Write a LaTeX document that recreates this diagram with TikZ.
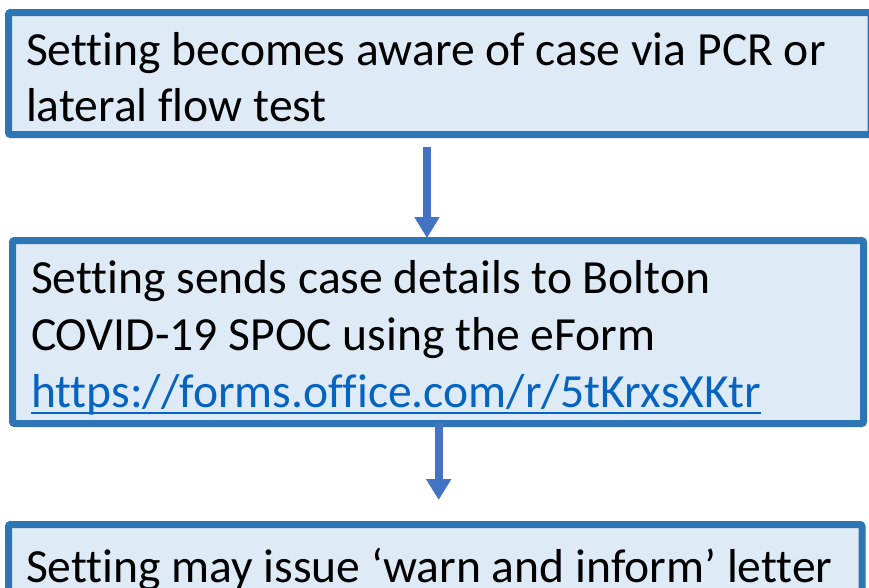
\documentclass[tikz,border=0pt]{standalone}
\usepackage{fontspec}
\setmainfont{Carlito}[Ligatures=NoCommon]
\usetikzlibrary{arrows.meta}
\definecolor{boxfill}{HTML}{DEEBF7}
\definecolor{boxline}{HTML}{2E75B6}
\definecolor{arrowblue}{HTML}{4472C4}
\definecolor{linkblue}{HTML}{0563C1}
\begin{document}
\begin{tikzpicture}[x=1pt,y=-1pt,
  flowbox/.style={draw=boxline, fill=boxfill, line width=7pt, rounded corners=2pt, inner sep=0pt, outer sep=0pt, anchor=north west},
  txt/.style={anchor=base west, inner sep=0pt, outer sep=0pt, font=\fontsize{47.6}{56}\selectfont},
  flowarrow/.style={draw=arrowblue, line width=8pt, -{Triangle[width=24pt,length=21pt]}}]
\useasboundingbox (0,0) rectangle (869,587);
\node[flowbox, minimum width=862.5pt, minimum height=122pt] (b1) at (8.5,12.5) {};
\node[flowbox, minimum width=851pt, minimum height=183pt] (b2) at (12.5,240.5) {};
\node[flowbox, minimum width=853.5pt, minimum height=85.5pt] (b3) at (8.5,524.5) {};
\node[txt] (t1a) at (26,65) {Setting becomes aware of case via PCR or};
\node[txt] (t1b) at (26,121) {lateral flow test};
\node[txt] (t2a) at (31,293) {Setting sends case details to Bolton};
\node[txt] (t2b) at (31,350) {COVID-19 SPOC using the eForm};
\node[txt, text=linkblue] (t2c) at (31,407) {https://forms.office.com/r/5tKrxsXKtr};
\draw[linkblue, line width=2.5pt] ([yshift=-6pt]t2c.base west) -- ([yshift=-6pt]t2c.base east);
\node[txt] (t3a) at (26,582) {Setting may issue ‘warn and inform’ letter};
\coordinate (c1) at (427,0);
\coordinate (c2) at (438.7,0);
\draw[flowarrow, shorten <=12.5pt, shorten >=2.5pt] (b1.south -| c1) -- (b2.north -| c1);
\draw[flowarrow, shorten <=-0.5pt, shorten >=24.5pt] (b2.south -| c2) -- (b3.north -| c2);
\end{tikzpicture}
\end{document}
